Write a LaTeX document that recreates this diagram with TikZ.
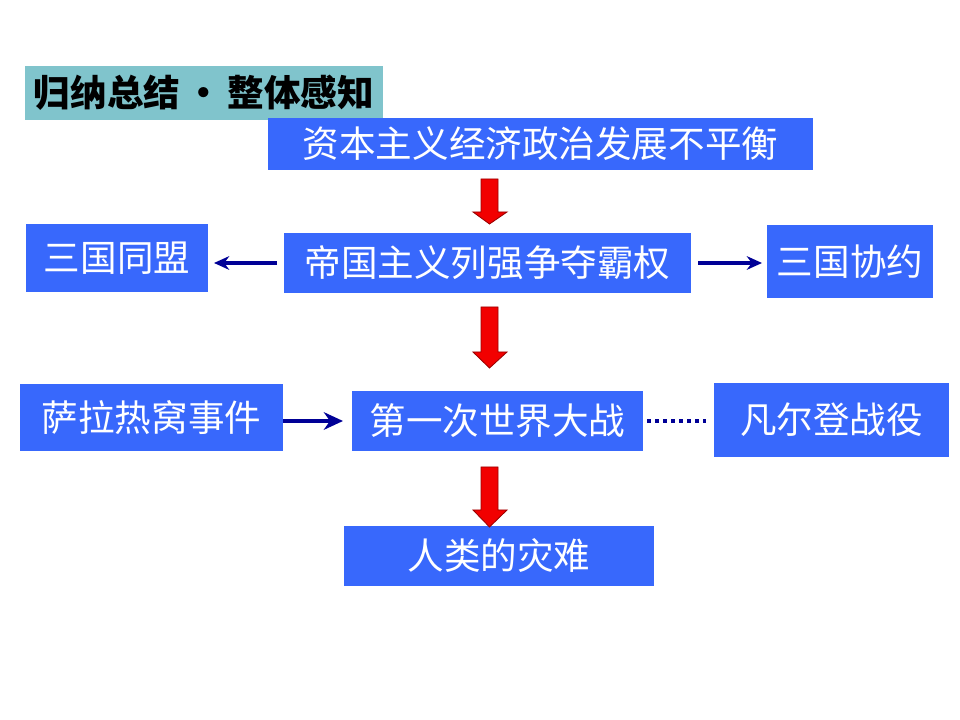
\documentclass[tikz,border=0pt]{standalone}
\usepackage{fontspec}
\newfontfamily\cjk{Noto Sans CJK SC}
\usetikzlibrary{arrows.meta,positioning}
\definecolor{boxblue}{RGB}{56,104,252}
\definecolor{titleteal}{RGB}{128,196,204}
\definecolor{linknavy}{RGB}{0,0,150}
\begin{document}
\begin{tikzpicture}[x=0.025cm, y=-0.025cm,
  box/.style={fill=boxblue, text=white, inner sep=0pt, outer sep=0pt,
              font=\cjk\fontsize{26pt}{30pt}\selectfont},
  sz/.style 2 args={minimum width=#1*0.025cm, minimum height=#2*0.025cm},
  link/.style={line width=0.1cm, linknavy, -{Stealth[length=0.38cm, width=0.34cm]}},
  biglink/.style={link, -{Stealth[length=0.48cm, width=0.44cm]}},
  dotlink/.style={line width=0.1cm, linknavy, dash pattern=on 0.1cm off 0.1cm},
  redarrow/.style={fill=red!95!black, draw=red!60!black, line width=0.6pt},
]
\useasboundingbox (0,0) rectangle (960,720);

% Heading
\node[fill=titleteal, sz={358}{54}, inner sep=0pt,
      font=\cjk\bfseries\fontsize{26pt}{30pt}\selectfont] (head) at (204,93)
  {归纳总结\hspace{0.15em}•\hspace{0.15em}整体感知};

% Main chain
\node[box, sz={545}{52}] (cause) at (540.5,144) {资本主义经济政治发展不平衡};
\node[box, sz={407}{60}] (rivalry) at (487.5,263) {帝国主义列强争夺霸权};
\node[box, sz={291}{60}] (war) at (497.5,421) {第一次世界大战};
\node[box, sz={310}{60}] (disaster) at (499,556) {人类的灾难};

% Side blocks
\node[box, sz={182}{68}] (alliance) at (117,258) {三国同盟};
\node[box, sz={166}{73}] (entente) at (850,261.5) {三国协约};
\node[box, sz={263}{67}] (sarajevo) at (151.5,417.5) {萨拉热窝事件};
\node[box, sz={235}{74}] (verdun) at (831.5,420) {凡尔登战役};

% Red down arrows
\foreach \t/\h/\b in {179/212/224, 307/352/368, 467/510/527}
  \filldraw[redarrow] (481,\t) -- (498,\t) -- (498,\h) -- (507,\h)
    -- (489.5,\b) -- (473,\h) -- (481,\h) -- cycle;

% Side links
\draw[link, shorten <=7*0.025cm, shorten >=6*0.025cm]
  (rivalry.west) -- (rivalry.west -| alliance.east);
\draw[link, shorten <=7*0.025cm, shorten >=5*0.025cm]
  (rivalry.east) -- (rivalry.east -| entente.west);
\draw[biglink, shorten >=9*0.025cm]
  (sarajevo.east |- war.west) -- (war.west);
\draw[dotlink, shorten <=4*0.025cm, shorten >=8*0.025cm]
  (war.east) -- (war.east -| verdun.west);

\end{tikzpicture}
\end{document}
